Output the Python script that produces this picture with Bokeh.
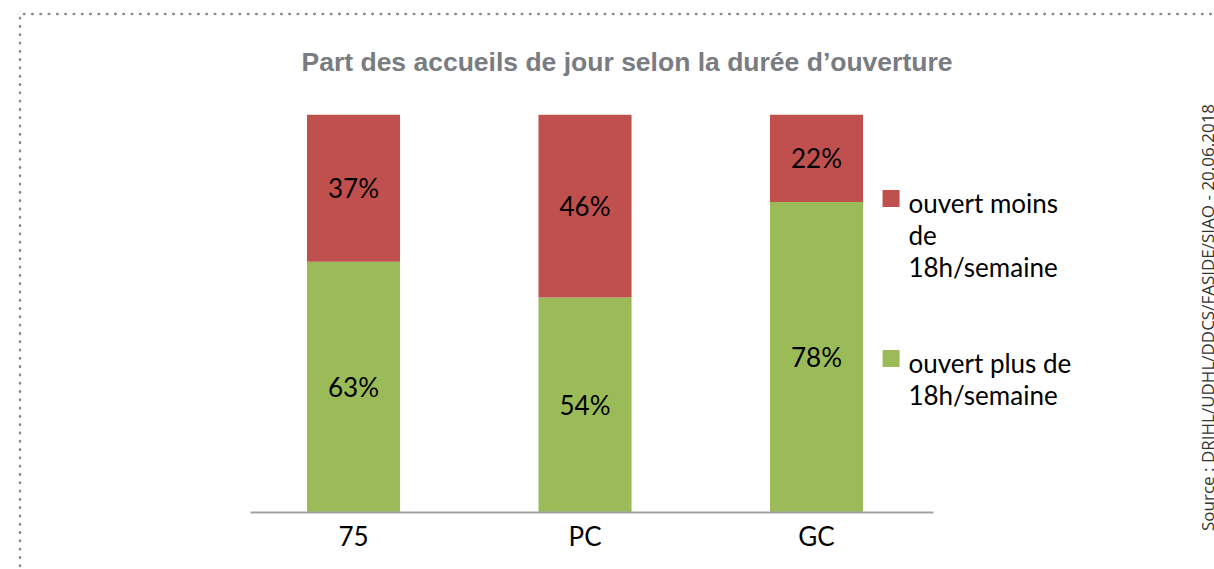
from bokeh.plotting import figure
from bokeh.layouts import row
from bokeh.models import Range1d, FixedTicker, Label, ColumnDataSource, Div
from bokeh.core.properties import value
from bokeh.embed import file_html
from bokeh.resources import INLINE

# ---- data ----
categories = ["75", "PC", "GC"]
plus_18h = [63, 54, 78]      # ouvert plus de 18h/semaine (green, bottom)
moins_18h = [37, 46, 22]     # ouvert moins de 18h/semaine (red, top)
series_names = ["ouvert plus de\n18h/semaine", "ouvert moins\nde\n18h/semaine"]
title_text = "Part des accueils de jour selon la durée d\u2019ouverture"
source_text = "Source : DRIHL/UDHL/DDCS/FASIDE/SIAO - 20.06.2018"

GREEN = "#9BBB59"
RED = "#C0504D"
FONT = "Lato"

xs = [i + 0.5 for i in range(len(categories))]
src = ColumnDataSource(dict(
    x=xs, plus=plus_18h, moins=moins_18h,
    plus_mid=[v / 2 for v in plus_18h],
    moins_mid=[p + m / 2 for p, m in zip(plus_18h, moins_18h)],
    plus_lbl=[f"{v}%" for v in plus_18h],
    moins_lbl=[f"{v}%" for v in moins_18h],
))

W_MAIN, W_SIDE, H = 1190, 24, 569
p = figure(width=W_MAIN, height=H, output_backend="svg", toolbar_location=None,
           title=title_text,
           x_range=Range1d(-0.7269, 4.0896), y_range=Range1d(0, 100),
           y_axis_location=None,
           min_border_left=69, min_border_right=6,
           min_border_top=114, min_border_bottom=57)
p.border_fill_color = None
p.background_fill_color = None
p.outline_line_color = None
p.xgrid.visible = False
p.ygrid.visible = False

# title
p.title.align = "center"
p.title.text_font = "Liberation Sans"
p.title.text_font_style = "bold"
p.title.text_font_size = "26.5px"
p.title.text_color = "#797c81"
p.title.standoff = 75

p.vbar_stack(["plus", "moins"], x="x", width=0.402, source=src,
             color=[GREEN, RED], line_color=None)

p.text(x="x", y="plus_mid", text="plus_lbl", source=src,
       text_align="center", text_baseline="middle",
       text_font=value(FONT), text_font_size="26px", text_color="black")
p.text(x="x", y="moins_mid", text="moins_lbl", source=src,
       text_align="center", text_baseline="middle",
       text_font=value(FONT), text_font_size="26px", text_color="black")

# x axis
ax = p.xaxis[0]
ax.ticker = FixedTicker(ticks=xs)
ax.major_label_overrides = {x: c for x, c in zip(xs, categories)}
ax.bounds = (0.055, 3.005)
ax.major_tick_line_color = None
ax.minor_tick_line_color = None
ax.axis_line_color = "#a3a3a3"
ax.axis_line_width = 2
ax.major_label_standoff = 1
ax.major_label_text_font = FONT
ax.major_label_text_font_size = "26px"
ax.major_label_text_color = "black"

# legend markers and texts
p.scatter(x=[2.822, 2.822], y=[78.9, 38.7], marker="square", size=17,
          color=[RED, GREEN], line_color=None)
p.add_layout(Label(x=2.897, y=81.7, text=series_names[1], text_align="left",
                   text_baseline="top", text_font=FONT, text_font_size="26px",
                   text_color="black", text_line_height=1.0))
p.add_layout(Label(x=2.897, y=41.7, text=series_names[0], text_align="left",
                   text_baseline="top", text_font=FONT, text_font_size="26px",
                   text_color="black", text_line_height=1.0))

# side strip with the rotated source text
s = Div(text=source_text, width=W_SIDE, height=H, styles={
    "writing-mode": "vertical-rl",
    "transform": "rotate(180deg)",
    "box-sizing": "border-box",
    "padding-right": "6px",
    "padding-bottom": "56px",
    "line-height": "14px",
    "text-align": "center",
    "white-space": "nowrap",
    "font-family": "'Open Sans'",
    "font-size": "17px",
    "color": "#333333",
    "overflow": "visible",
})

layout = row(p, s, spacing=0)

dot = "radial-gradient(circle, #8c8c8c 1.1px, rgba(255,255,255,0) 1.7px)"
cover = "linear-gradient(white, white)"
layout.styles = {
    "background-color": "white",
    "background-image": f"{cover}, {cover}, {dot}, {dot}",
    "background-repeat": "no-repeat, no-repeat, repeat-x, repeat-y",
    "background-position": "0px 0px, 0px 0px, 20px 12px, 18px 14px",
    "background-size": "17px 100%, 100% 11px, 8.3px 4px, 4px 8.3px",
}

open("out.html", "w").write(file_html(layout, INLINE))
